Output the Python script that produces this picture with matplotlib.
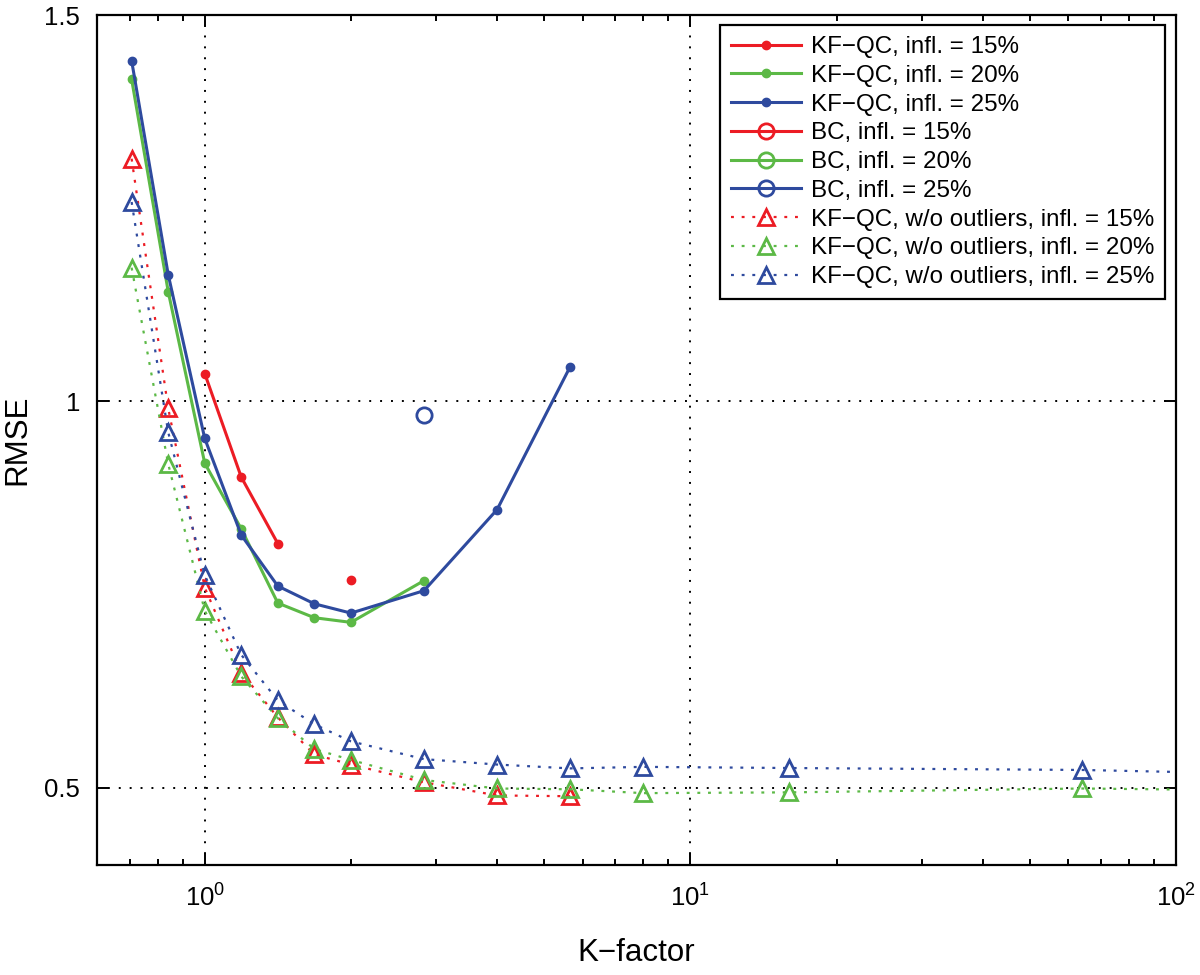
import numpy as np
import matplotlib
matplotlib.use('Agg')
import matplotlib.pyplot as plt
from matplotlib.ticker import FixedLocator, NullFormatter

plt.rcParams['font.family'] = ['Liberation Sans', 'DejaVu Sans']
plt.rcParams['mathtext.fontset'] = 'custom'
plt.rcParams['mathtext.rm'] = 'Liberation Sans'
plt.rcParams['mathtext.it'] = 'Liberation Sans:italic'

nan = np.nan
red = '#ec1c24'
green = '#5cb946'
blue = '#2e4a9e'

# KF-QC
k_qc = [0.707, 0.841, 1.0, 1.189, 1.414, 1.682, 2.0, 2.828, 4.0, 5.657]
qc_15 = [nan, nan, 1.036, 0.902, 0.816, nan, 0.769, nan, nan, nan]
qc_20 = [1.417, 1.142, 0.920, 0.835, 0.739, 0.720, 0.714, 0.768, nan, nan]
qc_25 = [1.441, 1.164, 0.952, 0.827, 0.761, 0.738, 0.726, 0.755, 0.860, 1.045]

# BC
k_bc = [2.828]
bc_15 = [nan]
bc_20 = [nan]
bc_25 = [0.982]

# KF-QC without outliers
k_wo = [0.707, 0.841, 1.0, 1.189, 1.414, 1.682, 2.0, 2.828, 4.0, 5.657, 8.0, 16.0, 64.0, 128.0]
wo_15 = [1.314, 0.991, 0.759, 0.649, 0.591, 0.543, 0.530, 0.507, 0.490, 0.489, nan, nan, nan, nan]
wo_20 = [1.173, 0.919, 0.729, 0.644, 0.590, 0.550, 0.536, 0.510, 0.499, 0.498, 0.493, 0.494, 0.499, 0.497]
wo_25 = [1.258, 0.960, 0.775, 0.672, 0.613, 0.582, 0.560, 0.537, 0.530, 0.525, 0.527, 0.5255, 0.523, 0.519]

fig = plt.figure(figsize=(12, 9.75), dpi=100)
ax = fig.add_axes([97 / 1200, 110 / 975, 1079 / 1200, 850 / 975])

for vals, c, p in zip([qc_15, qc_20, qc_25], [red, green, blue], ['15', '20', '25']):
    ax.plot(k_qc, vals, '-', color=c, lw=2.2, marker='o', ms=6,
            label=f'KF\u2212QC, infl. = {p}%')
for vals, c, p in zip([bc_15, bc_20, bc_25], [red, green, blue], ['15', '20', '25']):
    ax.plot(k_bc, vals, '-', color=c, lw=2.2, marker='o', ms=11, mfc='none', mew=2,
            label=f'BC, infl. = {p}%')
for vals, c, p in zip([wo_15, wo_20, wo_25], [red, green, blue], ['15', '20', '25']):
    ax.plot(k_wo, vals, color=c, lw=1.6, ls=(0, (1.3, 3.5)), marker='^', ms=11.5,
            mfc='none', mew=2, label=f'KF\u2212QC, w/o outliers, infl. = {p}%')

ax.set_xscale('log')
ax.set_xlim(0.6, 100)
ax.set_ylim(0.4, 1.5)
ax.yaxis.set_major_locator(FixedLocator([0.5, 1.0, 1.5]))
ax.set_yticklabels(['0.5', '1', '1.5'])
ax.xaxis.set_minor_formatter(NullFormatter())

ax.grid(True, which='major', color='black', lw=1.4, ls=(0, (1, 4.6)))
ax.tick_params(which='both', direction='in', top=True, right=True, width=1.4,
               labelsize=18.5, pad=12)
ax.tick_params(axis='x', which='both', pad=14)
ax.tick_params(which='major', length=8.5)
ax.tick_params(which='minor', length=4)
for s in ax.spines.values():
    s.set_linewidth(1.6)

ax.set_xlabel('K\u2212factor', fontsize=22.5, labelpad=19)
ax.set_ylabel('RMSE', fontsize=22.5, labelpad=9)

leg = ax.legend(loc='upper right', bbox_to_anchor=(0.9898, 0.988), borderaxespad=0,
                fontsize=17.4, fancybox=False, framealpha=1, edgecolor='black',
                handlelength=2.9, handletextpad=0.4, labelspacing=0.28, borderpad=0.45)
leg.get_frame().set_linewidth(1.6)

fig.savefig('out.png', dpi=100)
